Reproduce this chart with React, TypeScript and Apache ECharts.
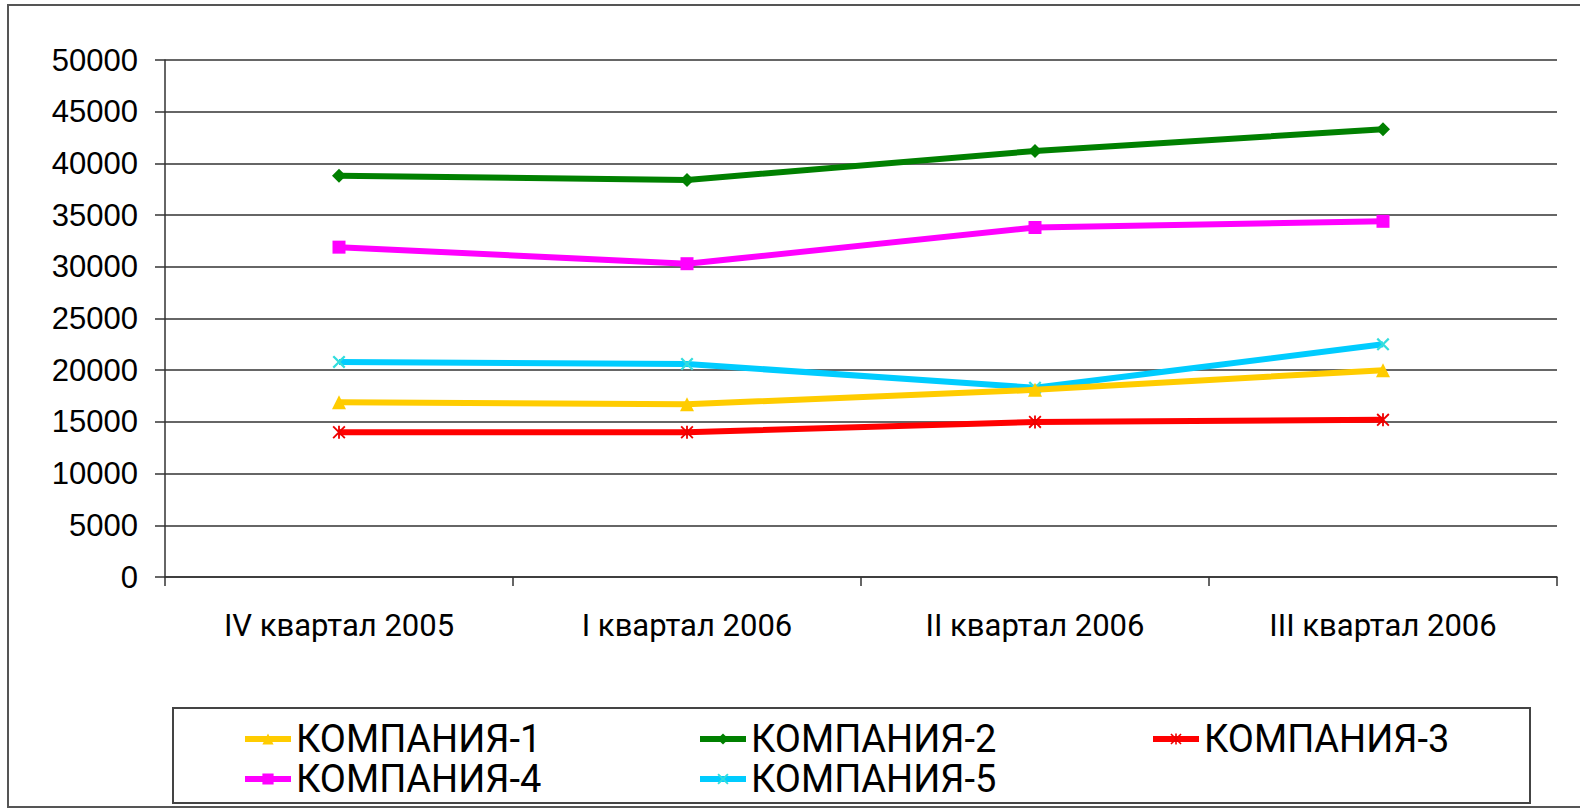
import React, { useEffect, useRef } from "react";
import * as echarts from "echarts";

const categories = ["IV квартал 2005", "I квартал 2006", "II квартал 2006", "III квартал 2006"];
const seriesNames = ["КОМПАНИЯ-1", "КОМПАНИЯ-2", "КОМПАНИЯ-3", "КОМПАНИЯ-4", "КОМПАНИЯ-5"];
const company1 = [16900, 16700, 18100, 20000];
const company2 = [38800, 38400, 41200, 43300];
const company3 = [14000, 14000, 15000, 15200];
const company4 = [31900, 30300, 33800, 34400];
const company5 = [20800, 20600, 18300, 22500];
const yTicks = [0, 5000, 10000, 15000, 20000, 25000, 30000, 35000, 40000, 45000, 50000];

const X_PATH = "path://M0,1.2 L1.2,0 L5,3.8 L8.8,0 L10,1.2 L6.2,5 L10,8.8 L8.8,10 L5,6.2 L1.2,10 L0,8.8 L3.8,5 Z";
const STAR_PATH = "path://M0,1 L1,0 L10,9 L9,10 Z M9,0 L10,1 L1,10 L0,9 Z M4.3,0 L5.7,0 L5.7,10 L4.3,10 Z";

export default function App() {
  const ref = useRef<HTMLDivElement>(null);
  useEffect(() => {
    if (!ref.current) return;
    const chart = echarts.init(ref.current, null, { renderer: "svg" });
    const data = [company1, company2, company3, company4, company5];
    const colors = ["#FFCC00", "#008000", "#FF0000", "#FF00FF", "#00CCFF"];
    const markerColors = ["#FFCC00", "#008000", "#EE0000", "#FF00FF", "#33DDDD"];
    const symbols = ["triangle", "diamond", STAR_PATH, "rect", X_PATH];
    const sizes = [14, 14, 13, 13, 13];
    const legendPos = [
      { left: 242, top: 720 },
      { left: 697, top: 720 },
      { left: 1150, top: 720 },
      { left: 242, top: 760 },
      { left: 697, top: 760 },
    ];
    chart.setOption({
      animation: false,
      backgroundColor: "#ffffff",
      grid: { left: 165, right: 23, top: 60, bottom: 233 },
      xAxis: {
        type: "category",
        data: categories,
        boundaryGap: true,
        axisLine: { show: true, lineStyle: { color: "#333", width: 1.5 } },
        axisTick: { show: true, length: 9, lineStyle: { color: "#333", width: 1.5 } },
        axisLabel: { color: "#000", fontFamily: "Roboto", fontSize: 31, margin: 33 },
        splitLine: { show: false },
      },
      yAxis: {
        type: "value",
        min: yTicks[0],
        max: yTicks[yTicks.length - 1],
        interval: 5000,
        axisLine: { show: true, lineStyle: { color: "#333", width: 1.5 } },
        axisTick: { show: true, length: 10, lineStyle: { color: "#333", width: 1.5 } },
        axisLabel: {
          color: "#000",
          fontFamily: "Liberation Sans, Arial",
          fontSize: 31,
          margin: 27,
          formatter: (v: number) => String(v),
        },
        splitLine: { show: true, lineStyle: { color: "#333", width: 1.5 } },
      },
      legend: seriesNames.map((n, i) => ({
        data: [n],
        left: legendPos[i].left,
        top: legendPos[i].top,
        padding: 0,
        itemWidth: 46,
        itemHeight: 14,
        selectedMode: false,
        lineStyle: { width: 6 },
        textStyle: { color: "#000", fontFamily: "Roboto", fontSize: 38, lineHeight: 38 },
      })),
      graphic: [
        {
          type: "rect",
          shape: { x: 8, y: 5, width: 1600, height: 802 },
          style: { fill: "none", stroke: "#555", lineWidth: 2 },
          silent: true,
        },
        {
          type: "rect",
          shape: { x: 173, y: 708, width: 1357, height: 95 },
          style: { fill: "none", stroke: "#444", lineWidth: 2 },
          silent: true,
        },
      ],
      series: seriesNames.map((n, i) => ({
        name: n,
        type: "line",
        data: data[i],
        symbol: symbols[i],
        symbolSize: sizes[i],
        showAllSymbol: true,
        lineStyle: { color: colors[i], width: 6 },
        itemStyle: { color: markerColors[i] },
        z: 5 - i,
      })),
    });
    return () => chart.dispose();
  }, []);
  return (
    <div
      ref={ref}
      style={{ position: "fixed", left: 0, top: 0, width: 1580, height: 810 }}
    />
  );
}
